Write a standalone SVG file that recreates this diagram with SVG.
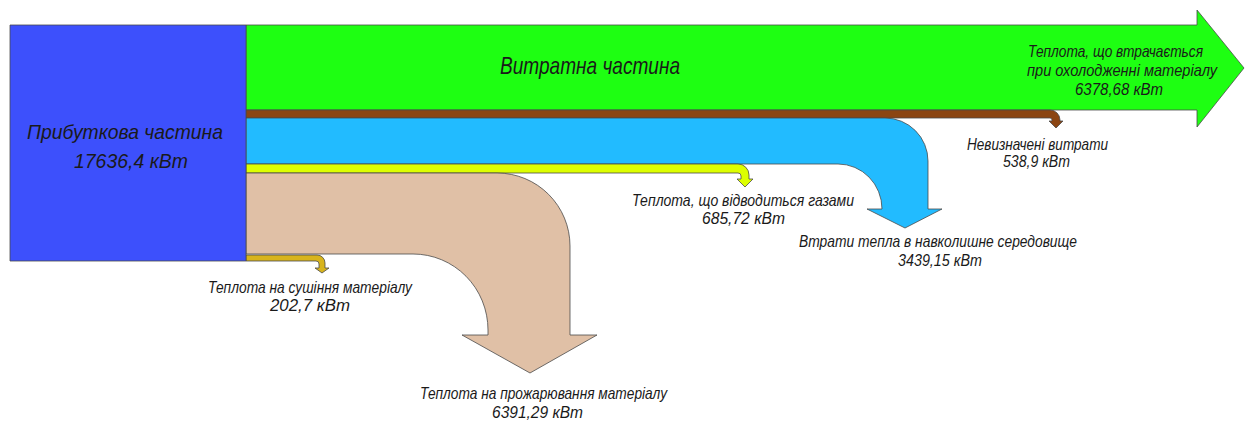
<svg xmlns="http://www.w3.org/2000/svg" width="1248" height="421" viewBox="0 0 1248 421">
<style>
.fl{stroke:#4a4a4a;stroke-width:0.8;stroke-linejoin:round}
.t{font-family:"Liberation Sans",Arial,sans-serif;font-style:italic;fill:#1a1a1a}
.s16{font-size:17px}
.s20{font-size:21px}
.s23{font-size:24px}
</style>
<rect width="1248" height="421" fill="#ffffff"/>
<g id="connectors">
<path class="fl" fill="#1eff12" d="M246,25 H1197 V10 L1244,68 L1197,127 V110 H246 Z"/>
<path class="fl" fill="#8b4513" d="M246,110 H1050 A10,10 0 0 1 1060,120 V121 H1063 L1056,128 L1049,121 H1052 V120 A2,2 0 0 0 1050,118 H246 Z"/>
<path class="fl" fill="#22bbff" d="M246,118 H885 A43,43 0 0 1 928,161 V209 H942 L905,228 L867,209 H882 A44,45 0 0 0 838,164 H246 Z"/>
<path class="fl" fill="#ddff00" d="M246,164 H738 A11,11 0 0 1 749,175 V179 H753 L745,187 L737,179 H741 V176 A3,3 0 0 0 738,173 H246 Z"/>
<path class="fl" fill="#e0c0a6" d="M246,173 H497 A73,73 0 0 1 570,246 V335 H597 L530,373 L462,335 H488 V330 A75,76 0 0 0 413,254 H246 Z"/>
<path class="fl" fill="#d8b41c" d="M246,255 H317 A8,8 0 0 1 325,263 V268 H329 L322,273 L315,268 H319 V264 A3,3 0 0 0 316,261 H246 Z"/>
</g>
<g id="node-income">
<rect class="fl" x="10" y="25" width="236" height="236" fill="#3d50fc"/>
<text class="t s20" x="27" y="139" textLength="196" lengthAdjust="spacingAndGlyphs">Прибуткова частина</text>
<text class="t s20" x="74" y="168" textLength="114" lengthAdjust="spacingAndGlyphs">17636,4 кВт</text>
</g>
<g id="node-expense">
<text class="t s23" x="500" y="74" textLength="180" lengthAdjust="spacingAndGlyphs">Витратна частина</text>
</g>
<g id="node-cooling">
<text class="t s16" x="1028" y="57" textLength="175" lengthAdjust="spacingAndGlyphs">Теплота, що втрачається</text>
<text class="t s16" x="1027" y="76" textLength="190" lengthAdjust="spacingAndGlyphs">при охолодженні матеріалу</text>
<text class="t s16" x="1075" y="95" textLength="88" lengthAdjust="spacingAndGlyphs">6378,68 кВт</text>
</g>
<g id="node-undefined">
<text class="t s16" x="967" y="150" textLength="141" lengthAdjust="spacingAndGlyphs">Невизначені витрати</text>
<text class="t s16" x="1003" y="167" textLength="67" lengthAdjust="spacingAndGlyphs">538,9 кВт</text>
</g>
<g id="node-gases">
<text class="t s16" x="632" y="206" textLength="222" lengthAdjust="spacingAndGlyphs">Теплота, що відводиться газами</text>
<text class="t s16" x="702" y="224" textLength="83" lengthAdjust="spacingAndGlyphs">685,72 кВт</text>
</g>
<g id="node-environment">
<text class="t s16" x="799" y="247" textLength="278" lengthAdjust="spacingAndGlyphs">Втрати тепла в навколишне середовище</text>
<text class="t s16" x="898" y="266" textLength="84" lengthAdjust="spacingAndGlyphs">3439,15 кВт</text>
</g>
<g id="node-drying">
<text class="t s16" x="208" y="293" textLength="204" lengthAdjust="spacingAndGlyphs">Теплота на сушіння матеріалу</text>
<text class="t s16" x="270" y="311" textLength="80" lengthAdjust="spacingAndGlyphs">202,7 кВт</text>
</g>
<g id="node-roasting">
<text class="t s16" x="420" y="399" textLength="247" lengthAdjust="spacingAndGlyphs">Теплота на прожарювання матеріалу</text>
<text class="t s16" x="492" y="418" textLength="91" lengthAdjust="spacingAndGlyphs">6391,29 кВт</text>
</g>
</svg>
